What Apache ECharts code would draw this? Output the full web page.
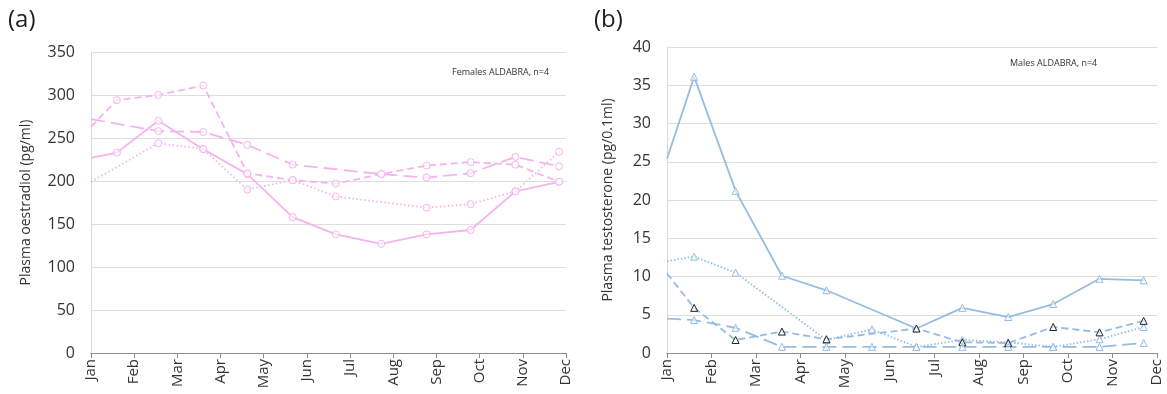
<!DOCTYPE html>
<html>
<head>
<meta charset="utf-8">
<script src="https://cdn.jsdelivr.net/npm/echarts@6/dist/echarts.min.js"></script>
<style>
  html, body { margin: 0; padding: 0; background: #fff; }
  #chart { width: 1167px; height: 394px; }
</style>
</head>
<body>
<div id="chart"></div>
<script>
// month labels on the x axis (Jan = 0 ... Dec = 11)
const months = ['Jan', 'Feb', 'Mar', 'Apr', 'May', 'Jun', 'Jul', 'Aug', 'Sep', 'Oct', 'Nov', 'Dec'];

// (a) females, sampling positions in month units
const xFem = [0, 0.6, 1.56, 2.6, 3.62, 4.67, 5.67, 6.72, 7.77, 8.79, 9.83, 10.84];
const femSolid  = [227, 233, 270, 237, 208, 158, 138, 127, 138, 143, 188, 199];
const femDotted = [199, null, 244, 237, 190, 201, 182, null, 169, 173, 188, 234];
const femShort  = [263, 294, 300, 311, 209, 201, 197, 208, 218, 222, 219, 199];
const femLong   = [272, null, 258, 257, 242, 219, null, 208, 204, 209, 228, 217];

// (b) males
const xMal = [0, 0.61, 1.54, 2.58, 3.58, 4.6, 5.6, 6.63, 7.66, 8.67, 9.71, 10.7];
const malSolid  = [25.4, 36.1, 21.2, 10.1, 8.2, null, 3.2, 5.9, 4.7, 6.4, 9.7, 9.5];
const malDotted = [12.0, 12.6, 10.5, null, 1.7, 3.1, 0.8, 1.7, 1.4, 0.8, 1.8, 3.4];
const malShort  = [10.4, 5.9, 1.7, 2.8, 1.8, null, 3.2, 1.4, 1.3, 3.4, 2.7, 4.2];
const malLong   = [4.5, 4.3, 3.3, 0.8, 0.8, 0.8, 0.8, 0.8, 0.8, 0.8, 0.8, 1.3];

const PINK = '#f4b4ef';
const BLUE = '#95bde3';
const FONT = 'Open Sans';

function pairs(xs, ys) {
  const out = [];
  xs.forEach((x, i) => {
    if (ys[i] == null) return;
    // first value sits on the axis edge, drawn without a marker
    out.push(i === 0 ? { value: [x, ys[i]], symbol: 'none' } : [x, ys[i]]);
  });
  return out;
}

function line(name, idx, xs, ys, color, dash, symbol, border) {
  return {
    name: name,
    type: 'line',
    xAxisIndex: idx,
    yAxisIndex: idx,
    data: pairs(xs, ys),
    symbol: symbol,
    symbolSize: 7,
    showSymbol: true,
    lineStyle: { color: color, width: 1.8, type: dash },
    itemStyle: { color: 'rgba(255,255,255,0.6)', borderColor: border || color, borderWidth: 1 },
    emphasis: { disabled: true },
    z: 3
  };
}

function xAxis(gridIndex) {
  return {
    type: 'value', gridIndex: gridIndex, min: 0, max: 11, interval: 1,
    axisLine: { show: true, lineStyle: { color: '#8c8c8c', width: 1.2 } },
    axisTick: { show: true, length: 5, lineStyle: { color: '#8c8c8c' } },
    splitLine: { show: false },
    axisLabel: {
      rotate: 90, margin: 6, color: '#333', fontFamily: FONT, fontSize: 15,
      formatter: v => months[Math.round(v)] || ''
    }
  };
}

function yAxis(gridIndex, max, interval, name, nameGap) {
  return {
    type: 'value', gridIndex: gridIndex, min: 0, max: max, interval: interval,
    name: name, nameLocation: 'middle', nameGap: nameGap,
    nameTextStyle: { color: '#333', fontFamily: FONT, fontSize: 14 },
    axisLine: { show: true, lineStyle: { color: '#d9d9d9' } },
    axisTick: { show: false },
    splitLine: { show: true, lineStyle: { color: '#dedede', width: 1 } },
    axisLabel: { color: '#333', fontFamily: FONT, fontSize: 16, margin: 16 }
  };
}

const chart = echarts.init(document.getElementById('chart'), null, { renderer: 'canvas' });
chart.setOption({
  animation: false,
  backgroundColor: '#fff',
  grid: [
    { left: 91, top: 52, width: 475, height: 301 },
    { left: 667, top: 47, width: 490, height: 306 }
  ],
  xAxis: [xAxis(0), xAxis(1)],
  yAxis: [
    yAxis(0, 350, 50, 'Plasma oestradiol (pg/ml)', 58),
    yAxis(1, 40, 5, 'Plasma testosterone (pg/0.1ml)', 52)
  ],
  graphic: [
    { type: 'text', left: 8, top: 8, style: { text: '(a)', font: '24px "Open Sans"', fill: '#222' } },
    { type: 'text', left: 594, top: 8, style: { text: '(b)', font: '24px "Open Sans"', fill: '#222' } },
    { type: 'text', left: 452, top: 68, style: { text: 'Females ALDABRA, n=4', font: '9px "Open Sans"', fill: '#333' } },
    { type: 'text', left: 1010, top: 59, style: { text: 'Males ALDABRA, n=4', font: '9px "Open Sans"', fill: '#333' } }
  ],
  series: [
    line('F solid', 0, xFem, femSolid, PINK, 'solid', 'circle'),
    line('F dotted', 0, xFem, femDotted, PINK, [1.5, 2.5], 'circle'),
    line('F short', 0, xFem, femShort, PINK, [7, 4], 'circle'),
    line('F long', 0, xFem, femLong, PINK, [14, 6], 'circle'),
    line('M solid', 1, xMal, malSolid, BLUE, 'solid', 'triangle'),
    line('M dotted', 1, xMal, malDotted, BLUE, [1.5, 2], 'triangle'),
    line('M short', 1, xMal, malShort, BLUE, [7, 4], 'triangle', '#222'),
    line('M long', 1, xMal, malLong, BLUE, [14, 6], 'triangle')
  ]
});
</script>
</body>
</html>
